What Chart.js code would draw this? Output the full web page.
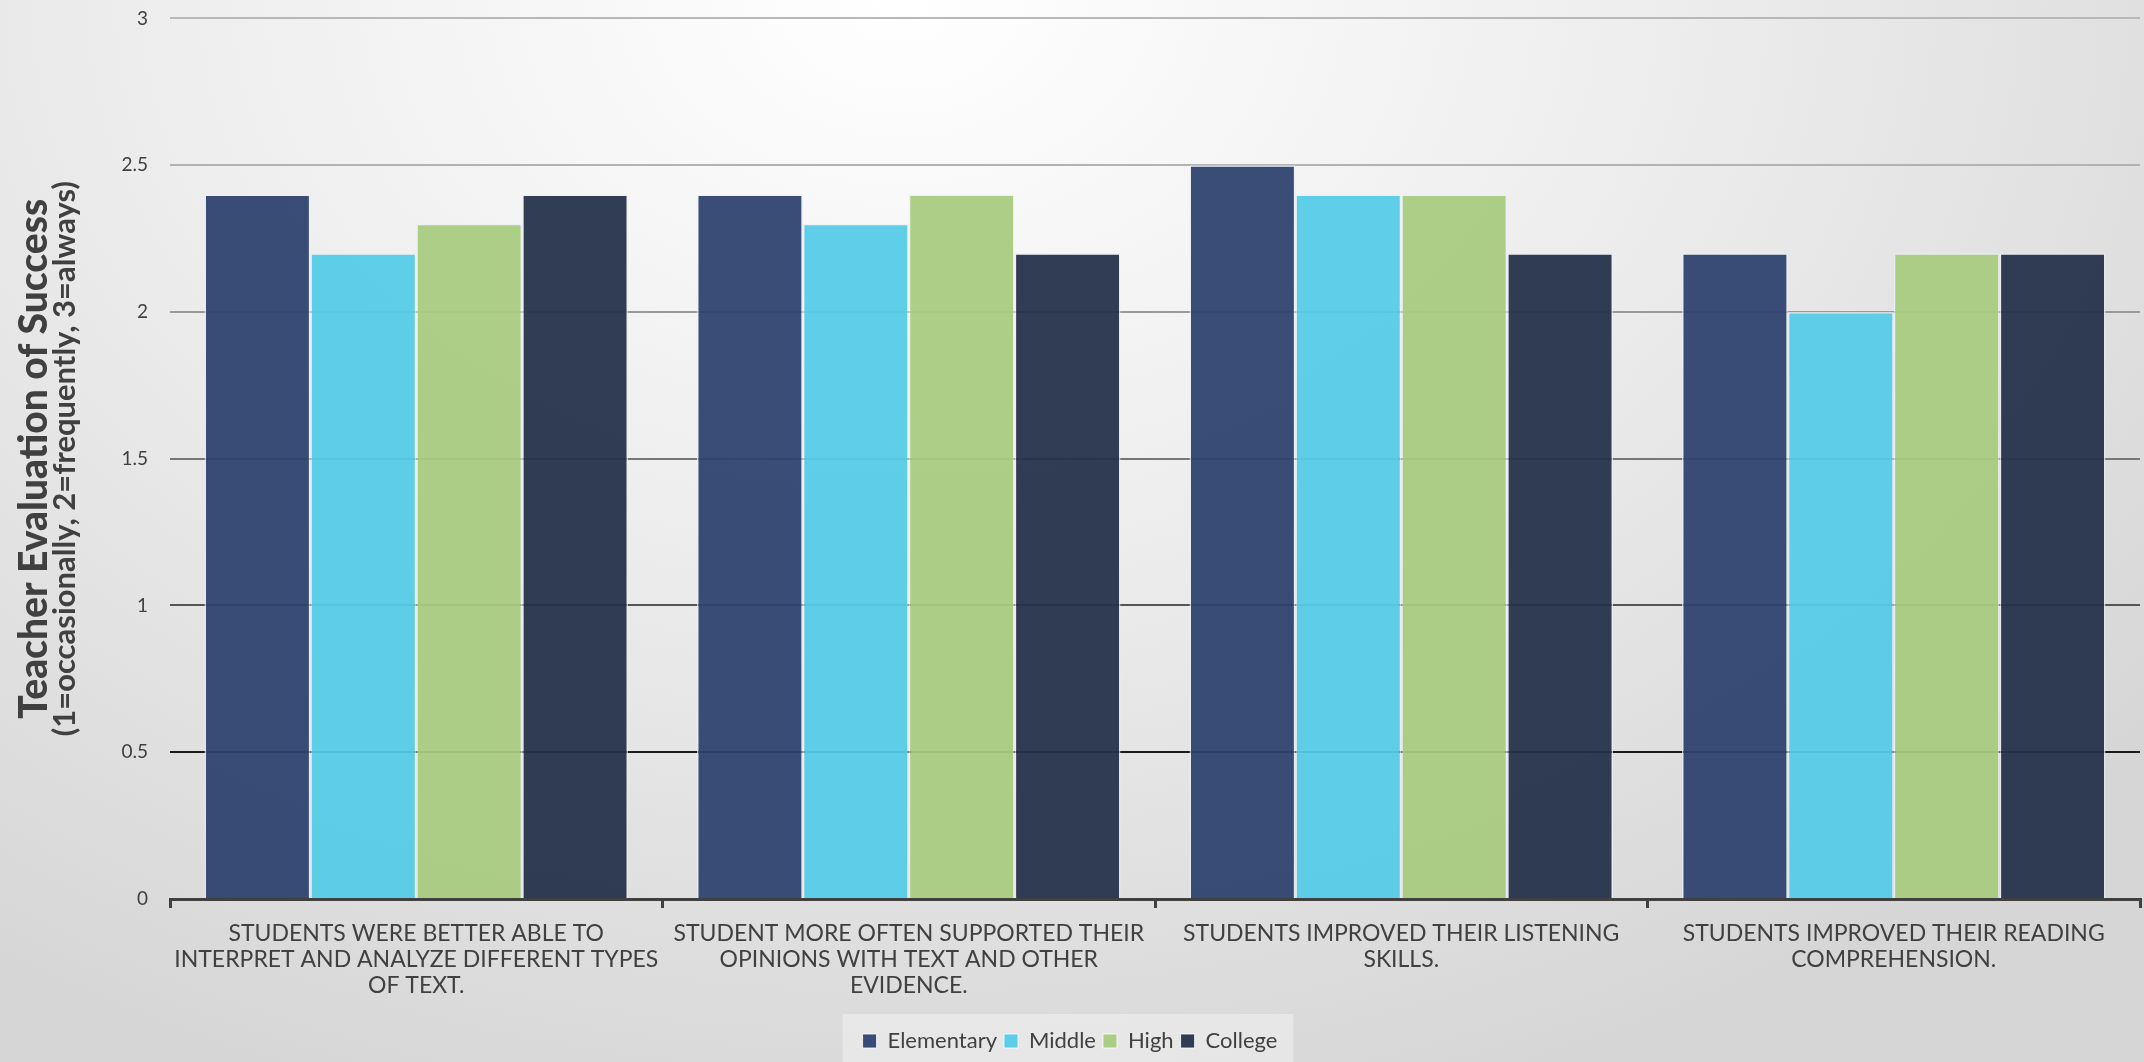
<!DOCTYPE html>
<html>
<head>
<meta charset="utf-8">
<script src="https://cdn.jsdelivr.net/npm/chart.js@4.4.1/dist/chart.umd.min.js"></script>
<style>
  html, body { margin: 0; padding: 0; }
  body {
    width: 2144px; height: 1062px; overflow: hidden;
    background: radial-gradient(ellipse 75% 110% at 42% 0%, #ffffff 0%, #eeeeee 45%, #d6d6d6 100%);
  }
  #wrap { position: absolute; left: 0; top: -15px; width: 2144px; height: 1077px; }
</style>
</head>
<body>
<div id="wrap"><canvas id="evalChart"></canvas></div>
<script>
// Teacher evaluation of success, grouped by school level

const categories = [
    ['STUDENTS WERE BETTER ABLE TO', 'INTERPRET AND ANALYZE DIFFERENT TYPES', 'OF TEXT.'],
    ['STUDENT MORE OFTEN SUPPORTED THEIR', 'OPINIONS WITH TEXT AND OTHER', 'EVIDENCE.'],
    ['STUDENTS IMPROVED THEIR LISTENING', 'SKILLS.'],
    ['STUDENTS IMPROVED THEIR READING', 'COMPREHENSION.']
];
const elementary = [2.4, 2.4, 2.5, 2.2];
const middle     = [2.2, 2.3, 2.4, 2.0];
const high       = [2.3, 2.4, 2.4, 2.2];
const college    = [2.4, 2.2, 2.2, 2.2];
const yTicks = [0, 0.5, 1, 1.5, 2, 2.5, 3];
const yTitle = ['Teacher Evaluation of Success', '(1=occasionally, 2=frequently, 3=always)'];

const fontFamily = 'Lato, "Open Sans", sans-serif';
const textColor = '#404040';

// gridlines get darker towards the bottom of the plot
const gridColors = {
    0: '#404040', 0.5: '#1a1a1a', 1: '#555555', 1.5: '#777777',
    2: '#9a9a9a', 2.5: '#b2b2b2', 3: '#b8b8b8'
};

// #region plugins
const yTitlePlugin = {
    id: 'yTitle',
    afterDraw(chart) {
        const { ctx, chartArea } = chart;
        const cy = (chartArea.top + chartArea.bottom) / 2;
        ctx.save();
        ctx.translate(34, cy);
        ctx.rotate(-Math.PI / 2);
        ctx.textAlign = 'center';
        ctx.textBaseline = 'middle';
        ctx.fillStyle = textColor;
        ctx.font = '900 39px ' + fontFamily;
        ctx.fillText(yTitle[0], 0, 0);
        ctx.font = 'bold 31px ' + fontFamily;
        ctx.fillText(yTitle[1], 0, 31);
        ctx.restore();
    }
};

const legendBoxPlugin = {
    id: 'legendBox',
    beforeDraw(chart) {
        const legend = chart.legend;
        if (!legend || !legend.legendHitBoxes.length) return;
        const boxes = legend.legendHitBoxes;
        const left = Math.min(...boxes.map(b => b.left)) - 20;
        const right = Math.max(...boxes.map(b => b.left + b.width)) + 16;
        const top = Math.min(...boxes.map(b => b.top)) - 16;
        const ctx = chart.ctx;
        ctx.save();
        ctx.fillStyle = 'rgba(255,255,255,0.35)';
        ctx.fillRect(left, top, right - left, chart.height - top);
        ctx.restore();
    }
};
// #endregion plugins

const ctx = document.getElementById('evalChart').getContext('2d');

const barStyle = (color) => ({
    backgroundColor: color,
    borderColor: 'rgba(235,240,245,0.75)',
    borderWidth: 1.5,
    borderSkipped: 'bottom',
    categoryPercentage: 0.86,
    barPercentage: 1.0
});

const evalChart = new Chart(ctx, {
    type: 'bar',
    data: {
        labels: categories,
        datasets: [
            { label: 'Elementary', data: elementary, ...barStyle('rgba(46,66,110,0.94)') },
            { label: 'Middle', data: middle, ...barStyle('rgba(84,203,232,0.94)') },
            { label: 'High', data: high, ...barStyle('rgba(168,203,128,0.94)') },
            { label: 'College', data: college, ...barStyle('rgba(36,48,74,0.94)') }
        ]
    },
    options: {
        responsive: true,
        maintainAspectRatio: false,
        animation: false,
        layout: { padding: { top: 0, right: 4, left: 0, bottom: 0 } },
        plugins: {
            legend: {
                position: 'bottom',
                labels: {
                    color: textColor,
                    font: { family: fontFamily, size: 22 },
                    boxWidth: 14,
                    boxHeight: 14,
                    padding: 7,
                    generateLabels(chart) {
                        return chart.data.datasets.map((ds, i) => ({
                            text: ds.label,
                            fillStyle: ds.backgroundColor,
                            strokeStyle: 'rgba(255,255,255,0.8)',
                            lineWidth: 1,
                            fontColor: textColor,
                            datasetIndex: i
                        }));
                    }
                }
            },
            title: { display: false },
            tooltip: { enabled: false }
        },
        scales: {
            x: {
                grid: {
                    offset: true,
                    drawOnChartArea: false,
                    drawTicks: true,
                    tickLength: 9,
                    color: '#404040',
                    lineWidth: 3
                },
                border: { color: '#404040', width: 3 },
                ticks: {
                    color: textColor,
                    font: { family: fontFamily, size: 23, lineHeight: 1.13 },
                    padding: 13,
                    maxRotation: 0,
                    autoSkip: false
                },
                afterFit(scale) { scale.height = 124; }
            },
            y: {
                min: 0,
                max: 3,
                afterBuildTicks(scale) {
                    scale.ticks = yTicks.map(v => ({ value: v }));
                },
                grid: {
                    drawTicks: false,
                    lineWidth: 2,
                    color: (c) => gridColors[c.tick.value] || '#999999'
                },
                border: { display: false },
                ticks: {
                    color: textColor,
                    font: { family: fontFamily, size: 19 },
                    padding: 22,
                    callback: (v) => String(v)
                },
                afterFit(scale) { scale.width = 170; }
            }
        }
    },
    plugins: [yTitlePlugin, legendBoxPlugin]
});
</script>
</body>
</html>
